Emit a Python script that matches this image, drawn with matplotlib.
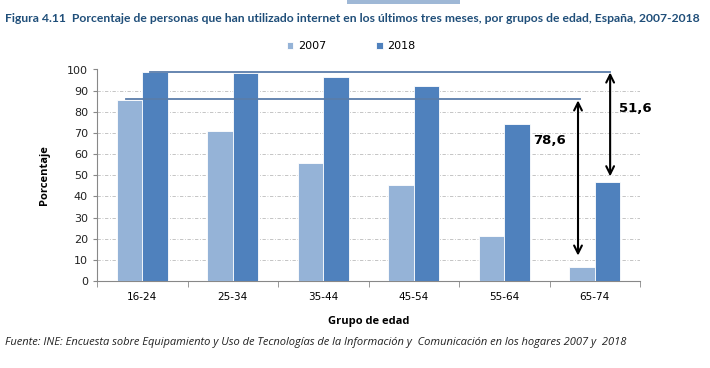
import numpy as np
import matplotlib
matplotlib.use('Agg')
import matplotlib.pyplot as plt
import matplotlib.patches as mpatches

# ── data ──
grupos = ['16-24', '25-34', '35-44', '45-54', '55-64', '65-74']
v2007 = [85.4, 71.0, 56.0, 45.5, 21.5, 6.8]
v2018 = [98.6, 98.5, 96.5, 92.2, 74.0, 47.0]
dif_2007 = '78,6'
dif_2018 = '51,6'

# ── colours ──
LIGHT = '#95B3D7'
DARK = '#4F81BD'
LINE = '#5A7DAA'
TITLE = '#1F4E79'

plt.rcParams['font.family'] = 'DejaVu Sans'

fig = plt.figure(figsize=(7.1, 3.68), dpi=100)
ax = fig.add_axes([97 / 710, 1 - 281 / 368, 543 / 710, 211.5 / 368])

x = np.arange(len(grupos))
w = 0.28
ax.bar(x - w / 2, v2007, w, color=LIGHT, edgecolor='white', linewidth=0.6, label='2007', zorder=3)
ax.bar(x + w / 2, v2018, w, color=DARK, edgecolor='white', linewidth=0.6, label='2018', zorder=3)

ax.set_xlim(-0.5, 5.5)
ax.set_ylim(0, 100)
ax.set_yticks(range(0, 101, 10))
ax.tick_params(axis='y', labelsize=8, length=3, color='#888888', colors='#222222')
ax.set_xticks(x)
ax.set_xticklabels(grupos, fontsize=7.5)
ax.tick_params(axis='x', length=0, pad=8)
ax.set_xticks(np.arange(-0.5, 6, 1), minor=True)
ax.tick_params(axis='x', which='minor', length=4, color='#888888')
ax.yaxis.grid(True, color='#BBBBBB', linestyle=(0, (4, 2, 1, 2)), linewidth=0.6, zorder=0)
for s in ['top', 'right']:
    ax.spines[s].set_visible(False)
for s in ['left', 'bottom']:
    ax.spines[s].set_color('#888888')
    ax.spines[s].set_linewidth(0.8)

# reference lines and arrows
ax.plot([0.09, 5.17], [v2018[0], v2018[0]], color=LINE, linewidth=1.3, zorder=4)
ax.plot([-0.18, 4.84], [v2007[0] + 0.8, v2007[0] + 0.8], color=LINE, linewidth=1.3, zorder=4)
ax.annotate('', xy=(4.815, 12.0), xytext=(4.815, v2007[0]),
            arrowprops=dict(arrowstyle='<->', color='black', lw=1.5,
                            mutation_scale=14, shrinkA=0, shrinkB=0), zorder=5)
ax.annotate('', xy=(5.17, 49.5), xytext=(5.17, v2018[0]),
            arrowprops=dict(arrowstyle='<->', color='black', lw=1.5,
                            mutation_scale=14, shrinkA=0, shrinkB=0), zorder=5)
ax.text(4.5, 66.5, dif_2007, ha='center', va='center', fontsize=9.5, fontweight='bold')
ax.text(5.45, 81.5, dif_2018, ha='center', va='center', fontsize=9.5, fontweight='bold',
        clip_on=False)

ax.set_ylabel('Porcentaje', fontsize=8, fontweight='bold', labelpad=12, family='Open Sans')
ax.set_xlabel('Grupo de edad', fontsize=8, fontweight='bold', labelpad=10, family='Open Sans')

ax.legend(loc='lower center', bbox_to_anchor=(0.468, 1.04), ncol=2, frameon=False,
          fontsize=8, handlelength=0.6, handleheight=0.6, columnspacing=4.5,
          handletextpad=0.4)

fig.text(0.007, 1 - 18 / 368,
         'Figura 4.11  Porcentaje de personas que han utilizado internet en los últimos tres meses, por grupos de edad, España, 2007-2018',
         fontsize=8.7, fontweight='bold', color=TITLE, family='Lato', va='center', ha='left')
fig.text(0.007, 1 - 343 / 368,
         'Fuente: INE: Encuesta sobre Equipamiento y Uso de Tecnologías de la Información y  Comunicación en los hogares 2007 y  2018',
         fontsize=8.0, style='italic', color='#222222', family='Open Sans', va='center', ha='left')

# trozo de recuadro cortado arriba
fig.patches.append(mpatches.Rectangle((347 / 710, 1 - 4 / 368), 113 / 710, 4 / 368,
                                      transform=fig.transFigure, facecolor='#9FB8D6',
                                      edgecolor='none'))

fig.savefig('out.png', dpi=100, facecolor='white')
